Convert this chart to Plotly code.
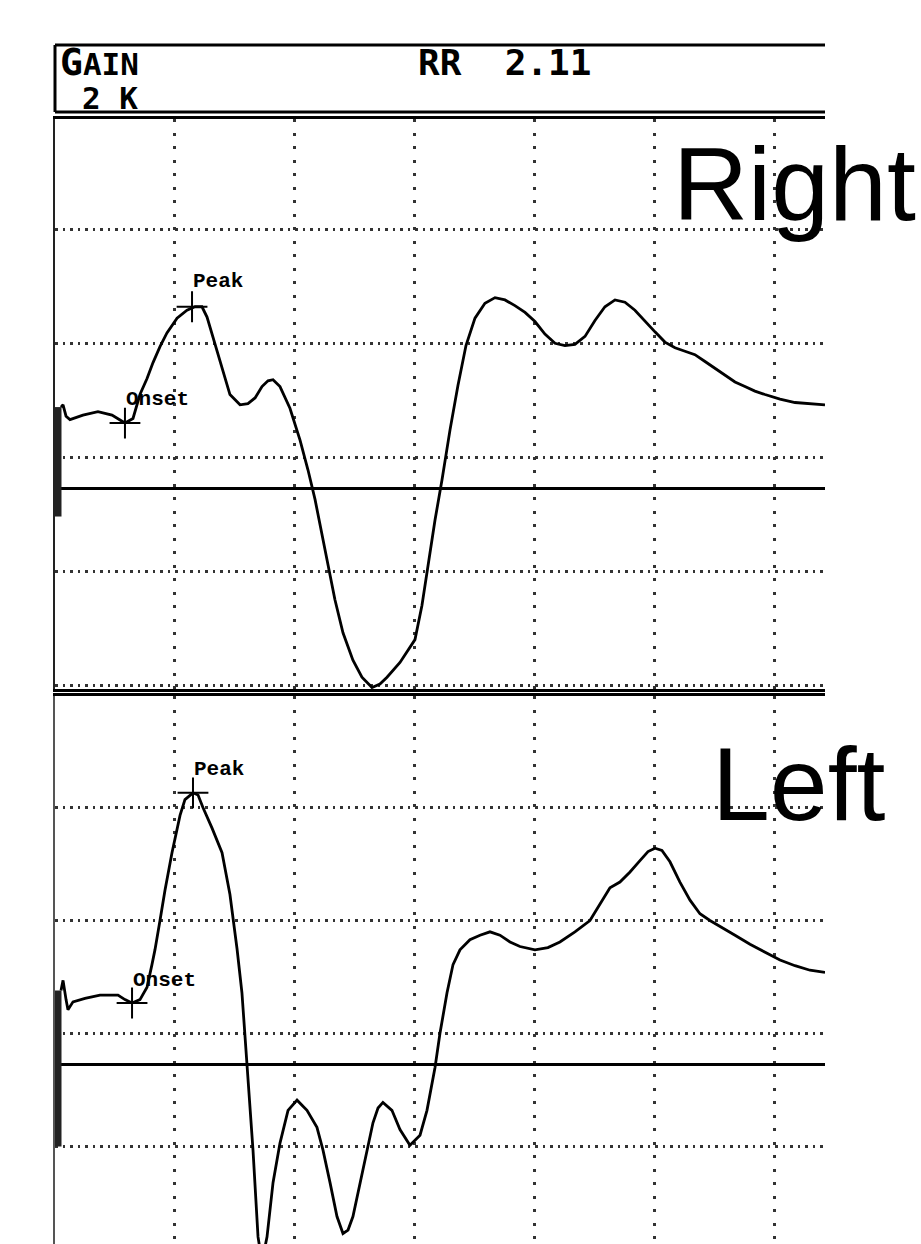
import plotly.graph_objects as go

# ---------------- data (time in ms, 10 ms / division; amplitude in a.u., 10 / division) ----------
right_t = [0.5, 0.67, 0.92, 1.25, 2.33, 3.58, 4.75, 5.83, 6.5, 7.08, 7.67, 8.17, 8.75, 9.33, 10.17,
           11.0, 11.67, 12.25, 12.67, 13.17, 13.58, 13.92, 14.58, 15.42, 16.08, 16.67, 17.25, 17.75,
           18.17, 18.75, 19.58, 20.42, 21.08, 21.67, 22.25, 22.92, 23.33, 24.0, 24.83, 25.58, 26.42,
           27.08, 27.67, 28.75, 30.0, 30.58, 31.08, 31.67, 32.25, 32.92, 33.58, 34.25, 35.0, 35.83,
           36.67, 37.5, 38.33, 39.17, 40.0, 40.83, 41.67, 42.5, 43.33, 44.17, 45.0, 45.83, 46.67,
           47.5, 48.33, 49.17, 50.0, 50.83, 51.67, 52.5, 53.33, 54.17, 55.0, 55.83, 56.67, 57.5,
           58.33, 59.17, 60.42, 61.67, 62.92, 64.17]
right_v = [7.1, 7.3, 6.3, 6.0, 6.4, 6.7, 6.4, 5.7, 6.1, 8.2, 9.6, 11.0, 12.4, 13.6, 14.9,
           15.6, 15.9, 15.9, 15.0, 13.2, 11.7, 10.4, 8.2, 7.3, 7.4, 7.9, 8.9, 9.4,
           9.5, 8.9, 7.0, 4.2, 1.6, -1.0, -4.1, -7.6, -9.8, -12.7, -15.1, -16.6, -17.5,
           -17.2, -16.6, -15.3, -13.3, -10.3, -6.7, -2.8, 0.7, 5.1, 9.0, 12.5, 14.9, 16.2,
           16.7, 16.5, 16.0, 15.4, 14.6, 13.5, 12.7, 12.5, 12.6, 13.3, 14.7, 15.9, 16.5,
           16.3, 15.6, 14.6, 13.7, 12.8, 12.3, 12.0, 11.7, 11.1, 10.5, 9.9, 9.3, 8.9,
           8.5, 8.2, 7.8, 7.5, 7.4, 7.3]

left_t = [0.5, 0.67, 0.92, 1.08, 1.5, 2.5, 3.75, 5.25, 5.83, 6.42, 7.08, 7.67, 8.08, 8.33, 8.75,
          9.17, 9.75, 10.42, 10.83, 11.5, 11.92, 12.33, 13.08, 13.92, 14.58, 15.17, 15.58, 16.0,
          16.5, 16.92, 17.25, 17.67, 18.17, 18.75, 19.42, 20.17, 21.0, 21.83, 22.33, 22.92, 23.5,
          24.0, 24.42, 24.83, 25.42, 26.0, 26.5, 26.92, 27.33, 28.08, 28.75, 29.58, 30.42, 31.0,
          31.67, 32.08, 32.67, 33.17, 33.75, 34.58, 35.42, 36.25, 37.08, 37.92, 38.75, 40.0, 41.08,
          42.08, 43.33, 44.58, 45.42, 46.25, 47.08, 47.92, 48.75, 49.42, 50.0, 50.58, 51.25, 52.08,
          52.92, 53.75, 54.58, 55.42, 56.67, 57.92, 59.17, 60.42, 61.67, 62.92, 64.17]
left_v = [6.5, 7.4, 5.7, 4.8, 5.5, 5.8, 6.1, 6.1, 5.7, 5.4, 5.7, 6.8, 8.8, 10.1, 12.7,
          15.4, 18.7, 22.0, 23.4, 24.0, 23.8, 22.7, 20.9, 18.7, 15.0, 10.2, 6.3, 0.1,
          -7.6, -15.3, -17.5, -15.3, -10.5, -7.0, -4.1, -3.2, -4.1, -5.6, -7.6, -10.5, -13.5,
          -15.0, -14.7, -13.5, -10.5, -7.6, -5.2, -3.9, -3.4, -4.1, -5.8, -7.2, -6.3, -4.1,
          -0.3, 2.7, 6.3, 8.8, 10.1, 11.0, 11.4, 11.7, 11.4, 10.8, 10.4, 10.1, 10.3,
          10.8, 11.7, 12.7, 14.1, 15.6, 16.1, 17.0, 18.0, 18.8, 19.1, 18.9, 17.9, 16.1,
          14.5, 13.3, 12.7, 12.2, 11.4, 10.6, 9.9, 9.2, 8.7, 8.3, 8.1]

mark_labels = ["Onset", "Peak"]
right_mark_t = [5.83, 11.42]
right_mark_v = [5.7, 15.9]
left_mark_t = [6.42, 11.5]
left_mark_v = [5.4, 24.0]

cal_t = [0.25, 0.25]
right_cal_v = [7.1, -2.5]
left_cal_v = [6.5, -7.3]

grid_t = [10, 20, 30, 40, 50, 60]
grid_v = [-17.3, -7.3, 2.7, 12.7, 22.7]

gain_text = "2 K"
rr_value = "2.11"

# ---------------- figure ----------------
W, H = 921, 1244
def px(x):
    return x / W
def py(y):
    return 1 - y / H

fig = go.Figure()
line_style = dict(color="black", width=2.8)
for xa, ya, t, v, cal, mt, mv in [
    ("x", "y", right_t, right_v, right_cal_v, right_mark_t, right_mark_v),
    ("x2", "y2", left_t, left_v, left_cal_v, left_mark_t, left_mark_v),
]:
    fig.add_trace(go.Scatter(x=cal_t, y=cal, mode="lines", xaxis=xa, yaxis=ya,
                             line=dict(color="#222", width=7), hoverinfo="skip"))
    fig.add_trace(go.Scatter(x=t, y=v, mode="lines", xaxis=xa, yaxis=ya,
                             line=line_style, hoverinfo="skip"))
    fig.add_trace(go.Scatter(x=mt, y=mv, mode="markers", xaxis=xa, yaxis=ya,
                             marker=dict(symbol="cross-thin", size=22,
                                         line=dict(width=2, color="black")),
                             hoverinfo="skip"))

grid_common = dict(showgrid=True, gridcolor="#333", gridwidth=2.5,
                   showticklabels=False, ticks="")
xdom = [px(55), px(825)]
fig.update_layout(
    width=W, height=H, margin=dict(l=0, r=0, t=0, b=0),
    paper_bgcolor="white", plot_bgcolor="white", showlegend=False,
    xaxis=dict(domain=xdom, range=[0, 64.17], tickvals=grid_t, griddash="3px,10.5px",
               zeroline=False, showline=True, mirror=True, linecolor="black", linewidth=3,
               anchor="y", **grid_common),
    yaxis=dict(domain=[py(689), py(119)], range=[-17.63, 32.37], tickvals=grid_v,
               griddash="2.5px,5px", zeroline=True, zerolinecolor="black", zerolinewidth=2.5,
               showline=True, linecolor="#222", linewidth=2, anchor="x", **grid_common),
    xaxis2=dict(domain=xdom, range=[0, 64.17], tickvals=grid_t, griddash="3px,10.5px",
                zeroline=False, showline=True, side="top", linecolor="black", linewidth=3,
                anchor="y2", **grid_common),
    yaxis2=dict(domain=[0, py(696)], range=[-15.93, 32.57], tickvals=grid_v,
                griddash="2.5px,5px", zeroline=True, zerolinecolor="black", zerolinewidth=2.5,
                showline=True, linecolor="#555", linewidth=2, anchor="x2", **grid_common),
)

# header box
hdr = dict(type="line", xref="paper", yref="paper", line=dict(color="black", width=3))
fig.add_shape(x0=px(55), x1=px(825), y0=py(45), y1=py(45), **hdr)
fig.add_shape(x0=px(55), x1=px(825), y0=py(112), y1=py(112), **hdr)
fig.add_shape(x0=px(55), x1=px(55), y0=py(45), y1=py(112), **hdr)

mono = "DejaVu Sans Mono"
fig.add_annotation(text="<b>G<span style='font-size:31px'>AIN</span></b>", xref="paper", yref="paper",
                   x=px(58), y=py(62), xanchor="left", yanchor="middle", showarrow=False,
                   font=dict(family=mono, size=38, color="black"))
fig.add_annotation(text="<b>" + gain_text + "</b>", xref="paper", yref="paper",
                   x=px(80), y=py(98), xanchor="left", yanchor="middle", showarrow=False,
                   font=dict(family=mono, size=31, color="black"))
fig.add_annotation(text="<b>RR  " + rr_value + "</b>", xref="paper", yref="paper",
                   x=px(416), y=py(62), xanchor="left", yanchor="middle", showarrow=False,
                   font=dict(family=mono, size=36, color="black"))

# point labels
lab_font = dict(family="Liberation Mono", size=21, color="black")
for xa, ya, mt, mv, dy in [("x", "y", right_mark_t, right_mark_v, [1.0, 1.1]),
                           ("x2", "y2", left_mark_t, left_mark_v, [0.9, 1.0])]:
    for lab, t, v, d in zip(mark_labels, mt, mv, dy):
        fig.add_annotation(text="<b>" + lab + "</b>", xref=xa, yref=ya, x=t, y=v + d,
                           xanchor="left", yanchor="bottom", showarrow=False, font=lab_font,
                           borderpad=0)

# side titles
big = dict(family="Liberation Sans", size=104, color="black")
fig.add_annotation(text="Right", xref="paper", yref="paper", x=px(671), y=py(184),
                   xanchor="left", yanchor="middle", showarrow=False, font=big)
fig.add_annotation(text="Left", xref="paper", yref="paper", x=px(710), y=py(784),
                   xanchor="left", yanchor="middle", showarrow=False, font=big)

fig.write_html("out.html", config={"displayModeBar": False},
               post_script="document.body.style.margin='0';")
